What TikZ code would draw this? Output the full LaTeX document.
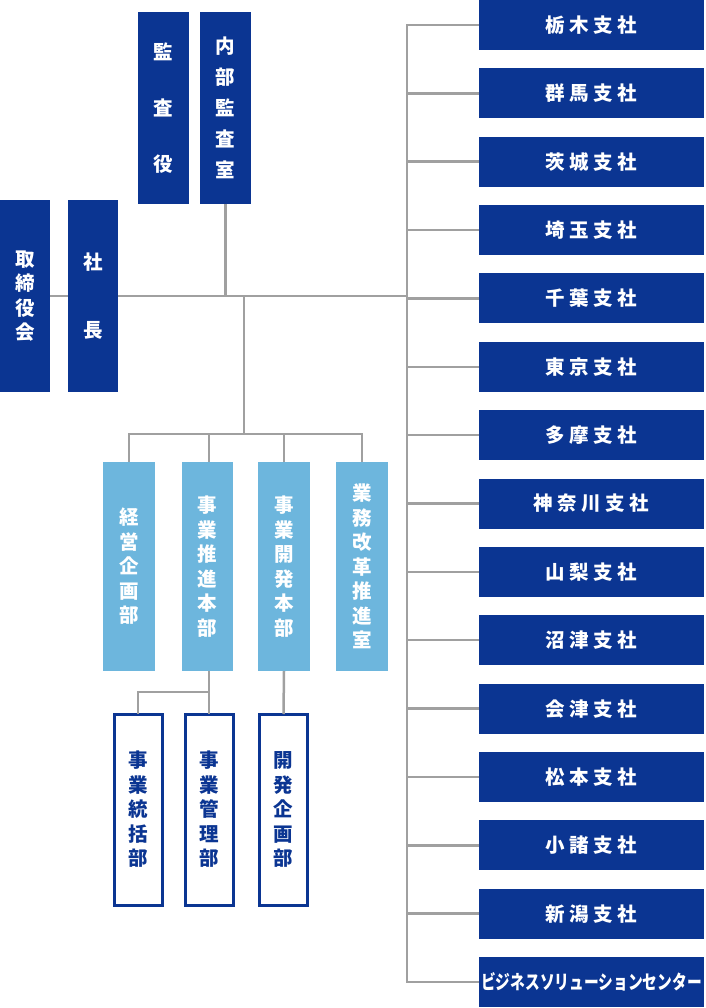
\documentclass[tikz,border=0pt]{standalone}
\usepackage{fontspec}
\usepackage{graphicx}
\setmainfont{Noto Sans CJK JP}
\definecolor{navy}{HTML}{0B3592}
\definecolor{sky}{HTML}{6DB6DD}
\definecolor{linegray}{HTML}{A0A0A0}
\newcommand{\gap}{\hspace{4.5pt}}
\begin{document}
\begin{tikzpicture}[x=1pt,y=-1pt,
  every node/.style={inner sep=0pt,outer sep=0pt,font=\bfseries\fontsize{19.5}{24.5}\selectfont},
  exec/.style={fill=navy,text=white,minimum width=51pt,minimum height=192pt,align=center},
  dept/.style={fill=sky,text=white,minimum width=52pt,minimum height=209pt,align=center},
  sub/.style={draw=navy,line width=3pt,fill=white,text=navy,minimum width=48pt,minimum height=191pt,align=center},
  branch/.style={fill=navy,text=white,minimum width=225pt,minimum height=50pt},
  conn/.style={draw=linegray,line width=2.5pt}]
\useasboundingbox (0,0) rectangle (705,1008);
% executives
\node[exec,font=\bfseries\fontsize{19.5}{56}\selectfont] (audit1) at (163.5,108) {監\\査\\役};
\node[exec,font=\bfseries\fontsize{19.5}{31}\selectfont] (audit2) at (225.5,108) {内\\部\\監\\査\\室};
\node[exec,minimum width=50pt] (board) at (25,296) {取\\締\\役\\会};
\node[exec,minimum width=50pt,font=\bfseries\fontsize{19.5}{68}\selectfont] (pres) at (93,296) {社\\長};
% departments
\node[dept] (d1) at (129,566.5) {経\\営\\企\\画\\部};
\node[dept,minimum width=51pt] (d2) at (207,566.5) {事\\業\\推\\進\\本\\部};
\node[dept] (d3) at (284,566.5) {事\\業\\開\\発\\本\\部};
\node[dept] (d4) at (362,566.5) {業\\務\\改\\革\\推\\進\\室};
% sub departments
\node[sub] (s1) at (138,809.5) {事\\業\\統\\括\\部};
\node[sub] (s2) at (209,809.5) {事\\業\\管\\理\\部};
\node[sub] (s3) at (283.5,809.5) {開\\発\\企\\画\\部};
% branches
\foreach \i/\t in {1/栃\gap 木\gap 支\gap 社,2/群\gap 馬\gap 支\gap 社,3/茨\gap 城\gap 支\gap 社,4/埼\gap 玉\gap 支\gap 社,5/千\gap 葉\gap 支\gap 社,6/東\gap 京\gap 支\gap 社,7/多\gap 摩\gap 支\gap 社,8/神\gap 奈\gap 川\gap 支\gap 社,9/山\gap 梨\gap 支\gap 社,10/沼\gap 津\gap 支\gap 社,11/会\gap 津\gap 支\gap 社,12/松\gap 本\gap 支\gap 社,13/小\gap 諸\gap 支\gap 社,14/新\gap 潟\gap 支\gap 社}
  \node[branch] (b\i) at (591.5,{25+68.36*(\i-1)}) {\t};
\node[branch] (b15) at (591.5,982) {\scalebox{0.755}[1]{ビジネスソリューションセンター}};
% connectors
\coordinate (hub) at (244,296);
\coordinate (bar) at (244,434);
\coordinate (trunk) at (407,296);
\draw[conn] (board.east) -- (pres.west);
\draw[conn] (pres.east) -- (trunk);
\draw[conn] (audit2.south) -- (audit2.south |- pres.east);
\draw[conn] (hub) -- (bar);
\draw[conn] (d1.north) -- (d1.north |- bar) -| (d4.north);
\draw[conn] (s2.north |- d2.north) -- (s2.north |- bar);
\draw[conn] (d3.north) -- (d3.north |- bar);
\draw[conn] (s2.north |- d2.south) -- ++(0,21) -| (s1.north);
\draw[conn] (s2.north |- d2.south) -- (s2.north);
\draw[conn] (d3.south) -- (s3.north);
\draw[conn] (b1.west) -- (b1.west -| trunk) -- (b15.west -| trunk) -- (b15.west);
\foreach \i in {2,...,14} \draw[conn] (b\i.west) -- (b\i.west -| trunk);
\end{tikzpicture}
\end{document}
